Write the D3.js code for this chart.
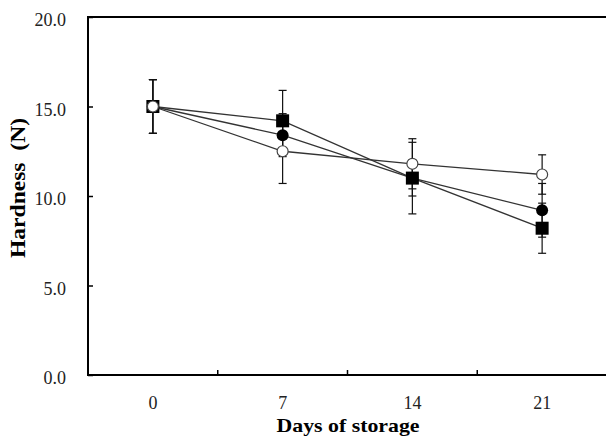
<!DOCTYPE html>
<html>
<head>
<meta charset="utf-8">
<script src="https://cdn.jsdelivr.net/npm/d3@7"></script>
<style>
  body { margin: 0; background: #fff; }
  text { font-family: "Liberation Serif", "Times New Roman", serif; }
</style>
</head>
<body>
<div id="chart"></div>
<script>
// days on the x axis
var days = ["0", "7", "14", "21"];
var yTicks = [0, 5, 10, 15, 20];

// hardness (N) per treatment, with +/- error
var squareVals = [15.0, 14.2, 11.0, 8.2];
var squareErr  = [1.5, 1.7, 2.0, 1.4];
var dotVals    = [15.0, 13.4, 11.0, 9.2];
var dotErr     = [1.5, 1.2, 1.0, 1.5];
var openVals   = [15.0, 12.5, 11.8, 11.2];
var openErr    = [1.5, 1.8, 1.4, 1.1];

var width = 606, height = 444;
var margin = {left: 88, top: 17, right: -1, bottom: 69};

var svg = d3.select("#chart").append("svg")
    .attr("width", width)
    .attr("height", height);

var x = d3.scaleBand()
    .domain(days)
    .range([margin.left, width - margin.right]);

var y = d3.scaleLinear()
    .domain([0, 20])
    .range([height - margin.bottom, margin.top]);

var cx = function(i) { return x(days[i]) + x.bandwidth() / 2; };

// plot frame
svg.append("rect")
    .attr("x", margin.left)
    .attr("y", margin.top)
    .attr("width", width - margin.right - margin.left)
    .attr("height", y(0) - margin.top)
    .attr("fill", "none")
    .attr("stroke", "#000")
    .attr("stroke-width", 2);

// y axis, ticks pointing inward
var yAxis = svg.append("g")
    .attr("transform", "translate(" + margin.left + ",0)")
    .call(d3.axisRight(y).tickValues(yTicks).tickSize(5).tickFormat(""));
yAxis.select(".domain").remove();
yAxis.selectAll("line").attr("stroke-width", 1.5);

svg.selectAll(".ylab")
    .data(yTicks)
    .enter().append("text")
    .attr("class", "ylab")
    .attr("x", 66)
    .attr("y", function(d) { return y(d); })
    .attr("dy", "0.52em")
    .attr("text-anchor", "end")
    .attr("font-size", 18)
    .attr("fill", "#222")
    .text(function(d) { return d3.format(".1f")(d); });

// x axis ticks between the categories
var bounds = days.slice(1).map(function(d) { return x(d); });
svg.selectAll(".xtick")
    .data(bounds)
    .enter().append("line")
    .attr("x1", function(d) { return d; })
    .attr("x2", function(d) { return d; })
    .attr("y1", y(0))
    .attr("y2", y(0) - 5)
    .attr("stroke", "#000")
    .attr("stroke-width", 1.5);

svg.selectAll(".xlab")
    .data(days)
    .enter().append("text")
    .attr("x", function(d, i) { return cx(i); })
    .attr("y", 409)
    .attr("text-anchor", "middle")
    .attr("font-size", 18)
    .attr("fill", "#222")
    .text(function(d) { return d; });

// axis titles
svg.append("text")
    .attr("x", 348)
    .attr("y", 432)
    .attr("text-anchor", "middle")
    .attr("font-size", 19)
    .attr("font-weight", "bold")
    .attr("textLength", 143)
    .attr("lengthAdjust", "spacingAndGlyphs")
    .text("Days of storage");

svg.append("text")
    .attr("transform", "translate(25,188) rotate(-90)")
    .attr("text-anchor", "middle")
    .attr("font-size", 20)
    .attr("font-weight", "bold")
    .attr("textLength", 140)
    .attr("lengthAdjust", "spacingAndGlyphs")
    .attr("xml:space", "preserve")
    .text("Hardness  (N)");

var series = [
  {vals: squareVals, err: squareErr, shape: "square"},
  {vals: dotVals, err: dotErr, shape: "dot"},
  {vals: openVals, err: openErr, shape: "open"}
];

var line = d3.line()
    .x(function(d, i) { return cx(i); })
    .y(function(d) { return y(d); });

// error bars
series.forEach(function(s) {
  var g = svg.append("g");
  s.vals.forEach(function(v, i) {
    var top = y(v + s.err[i]), bot = y(v - s.err[i]), xc = cx(i);
    g.append("line").attr("x1", xc).attr("x2", xc).attr("y1", top).attr("y2", bot)
      .attr("stroke", "#111").attr("stroke-width", 1.2);
    [top, bot].forEach(function(yy) {
      g.append("line").attr("x1", xc - 4).attr("x2", xc + 4).attr("y1", yy).attr("y2", yy)
        .attr("stroke", "#111").attr("stroke-width", 1.2);
    });
  });
});

// lines
series.forEach(function(s) {
  svg.append("path")
    .datum(s.vals)
    .attr("d", line)
    .attr("fill", "none")
    .attr("stroke", "#333")
    .attr("stroke-width", 1.3);
});

// markers
series.forEach(function(s) {
  var g = svg.append("g");
  s.vals.forEach(function(v, i) {
    if (s.shape == "square") {
      g.append("rect").attr("x", cx(i) - 6.5).attr("y", y(v) - 6.5)
        .attr("width", 13).attr("height", 13).attr("fill", "#000");
    } else if (s.shape == "dot") {
      g.append("circle").attr("cx", cx(i)).attr("cy", y(v)).attr("r", 6)
        .attr("fill", "#000");
    } else {
      g.append("circle").attr("cx", cx(i)).attr("cy", y(v)).attr("r", 5.5)
        .attr("fill", "#fff").attr("stroke", "#444").attr("stroke-width", 1.2);
    }
  });
});
</script>
</body>
</html>
